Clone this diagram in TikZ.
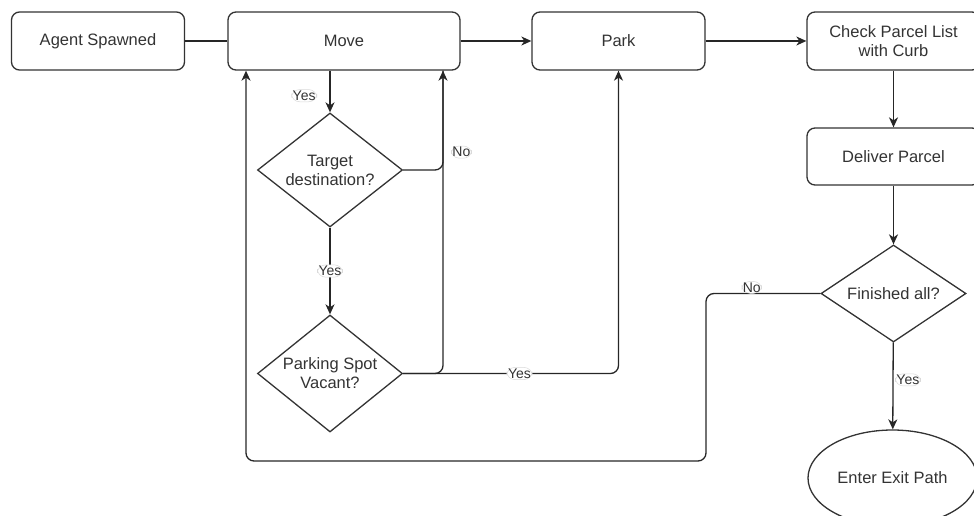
\documentclass[tikz,border=0pt]{standalone}
\usepackage{fontspec}
\setmainfont{Liberation Sans}
\usetikzlibrary{shapes.geometric,arrows.meta}
\begin{document}
\begin{tikzpicture}[x=1pt,y=-1pt,
  every node/.style={text=black!80},
  box/.style={draw=black!80, line width=1.3pt, rounded corners=8pt, minimum width=173pt, minimum height=58pt, inner sep=0pt, align=center, font=\fontsize{16.5}{19}\selectfont},
  dia/.style={diamond, draw=black!80, line width=1.3pt, minimum width=145pt, minimum height=114pt, inner sep=0pt},
  dtext/.style={align=center, font=\fontsize{16.5}{19}\selectfont},
  oval/.style={ellipse, draw=black!80, line width=1.3pt, minimum width=169pt, minimum height=96pt, font=\fontsize{16.5}{19}\selectfont},
  conn/.style={draw=black!85, line width=1.3pt, rounded corners=8pt},
  arr/.style={conn, -{Stealth[length=10pt,width=9pt,inset=3pt]}},
  lbl/.style={fill=white, draw=black!15, line width=0.5pt, inner sep=1.2pt, font=\fontsize{14}{15}\selectfont}]
\useasboundingbox (0,0) rectangle (974,516);

\node[box] (as) at (98,41) {Agent Spawned};
\node[box, minimum width=232pt] (move) at (344,41) {Move};
\node[box] (park) at (618.5,41) {Park};
\node[box] (check) at (893.5,41) {Check Parcel List\\with Curb};
\node[box, minimum height=57pt] (deliver) at (893.5,156.5) {Deliver Parcel};

\node[dia] (t) at (330,170) {};
\node[dtext] (tt) at (t.center) {Target\\destination?};
\node[dia, minimum height=117pt] (p) at (330,373.5) {};
\node[dtext] (pt) at (p.center) {Parking Spot\\Vacant?};
\node[dia, minimum height=97pt] (f) at (893.5,293.5) {};
\node[dtext] (ft) at (f.center) {Finished all?};
\node[oval] (exit) at (892.5,478) {Enter Exit Path};

\coordinate (mvL) at ([xshift=-98pt]move.south);
\coordinate (mvR) at ([xshift=99pt]move.south);
\coordinate (c1) at (706,461);

\draw[conn] (as) -- (move);
\draw[arr] (move) -- (park);
\draw[arr] (park) -- (check);
\draw[arr] (check) -- (deliver);
\draw[arr] (deliver) -- (f);
\draw[arr] (f) -- (exit) node[lbl, pos=0.43, anchor=west, xshift=2pt] {Yes};

\draw[arr] (move.south -| t.north) -- (t.north) node[lbl, pos=0.6, anchor=east, xshift=-13pt] {Yes};
\draw[arr] (t) -- (p) node[lbl, pos=0.5] {Yes};
\draw[arr] (t.east) -| (mvR) node[lbl, pos=0.59, anchor=west, xshift=8pt] {No};
\draw[conn] (p.east) -| (mvR);
\draw[arr] (p.east) -| (park.south) node[lbl, pos=0.27] {Yes};
\draw[arr] (f.west) -| (c1) node[lbl, pos=0.3, anchor=south, inner sep=1pt] {No} -| (mvL);
\end{tikzpicture}
\end{document}
